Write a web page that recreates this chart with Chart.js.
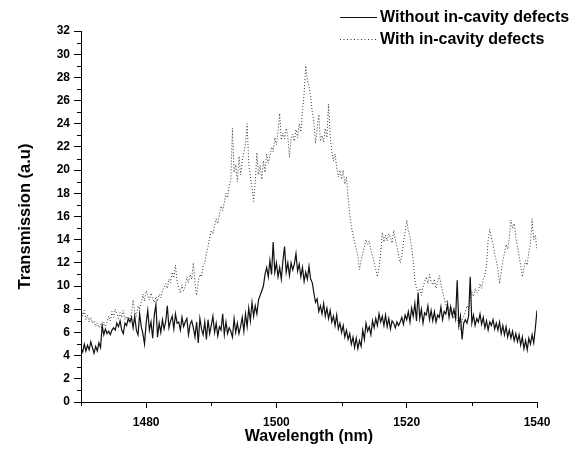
<!DOCTYPE html>
<html>
<head>
<meta charset="utf-8">
<script src="https://cdn.jsdelivr.net/npm/chart.js@4"></script>
<style>
  html, body { margin: 0; padding: 0; background: #fff; }
  #wrap { width: 579px; height: 455px; position: relative; }
</style>
</head>
<body>
<div id="wrap"><canvas id="c" width="579" height="455"></canvas></div>
<script>
// Wavelength sampling (nm)
const wlStart = 1470;
const wlStep = 0.25;

// Without in-cavity defects (4 samples per nm, 1470 .. 1540)
const withoutDefects = [
  4.6, 4.3, 5.0, 4.4,   4.9, 4.5, 5.2, 4.7,   4.2, 4.8, 4.4, 5.1,   4.7, 6.6, 5.8, 6.3,
  5.9, 6.1, 5.8, 6.2,   6.4, 6.2, 6.8, 6.5,   7.0, 6.2, 5.9, 6.8,   6.6, 7.2, 6.9, 7.3,
  6.4, 7.4, 6.2, 5.8,   7.6, 6.5, 5.9, 5.0,   6.8, 7.9, 6.2, 6.9,   5.5, 7.5, 8.4, 5.6,
  6.8, 6.0, 7.1, 6.3,   6.9, 8.3, 6.4, 7.0,   7.4, 6.3, 7.6, 6.8,   6.9, 6.2, 7.3, 6.5,
  6.9, 7.2, 5.8, 6.7,   7.0, 6.4, 5.6, 6.9,   5.1, 7.2, 6.3, 5.8,   6.9, 5.4, 7.1, 5.9,
  6.6, 7.4, 6.0, 6.8,   5.7, 6.5, 6.2, 7.6,   5.8, 6.9, 5.9, 6.4,   6.1, 5.6, 7.2, 6.0,
  6.8, 5.9, 6.5, 7.3,   6.1, 7.6, 6.5, 8.1,   7.0, 8.6, 7.4, 8.3,   7.6, 8.8, 9.2, 9.6,
  10.0, 11.0, 11.6, 10.8,  12.2, 11.0, 13.8, 11.2,  12.0, 10.8, 11.6, 10.6,  12.2, 13.4, 11.2, 12.0,
  10.9, 12.0, 11.4, 11.9,  12.8, 11.3, 11.9, 10.8,  11.6, 10.4, 11.2, 10.6,  11.7, 10.6, 10.3, 9.4,
  8.6, 8.9, 7.8, 8.3,   7.6, 8.5, 7.4, 8.1,   7.2, 7.9, 6.9, 7.4,   6.6, 7.5, 6.3, 6.8,
  6.0, 6.6, 5.6, 6.2,   5.4, 5.9, 5.0, 5.6,   4.7, 5.5, 4.6, 5.3,   4.8, 6.2, 5.4, 6.8,
  6.1, 6.5, 5.8, 7.0,   6.4, 7.2, 6.6, 7.6,   6.9, 7.4, 6.6, 7.5,   6.5, 7.2, 6.3, 7.0,
  6.8, 6.4, 6.9, 6.6,   6.9, 7.3, 6.7, 7.5,   7.1, 7.8, 6.9, 8.1,   7.4, 8.5, 7.0, 9.4,
  7.2, 8.0, 6.8, 7.7,   7.5, 8.3, 7.1, 7.9,   7.0, 7.8, 6.9, 7.5,   7.3, 8.2, 7.1, 7.8,
  7.6, 8.4, 7.3, 8.2,   7.4, 8.0, 7.2, 10.5,  6.6, 7.4, 5.4, 6.8,   7.1, 6.8, 7.4, 10.8,
  6.8, 7.5, 6.6, 7.2,   6.9, 7.6, 6.7, 7.3,   6.4, 7.0, 6.2, 6.9,   6.6, 7.1, 6.3, 6.8,
  6.2, 6.9, 5.9, 6.6,   5.8, 6.5, 5.6, 6.2,   5.5, 6.1, 5.3, 5.9,   5.2, 5.8, 4.9, 5.6,
  4.6, 5.3, 4.5, 5.5,   5.0, 5.8, 5.1, 6.4,   7.9
];

// With in-cavity defects (4 samples per nm, 1470 .. 1540)
const withDefects = [
  8.2, 7.4, 7.9, 7.1,   7.5, 6.9, 7.3, 6.8,   7.0, 6.5, 6.8, 6.4,   6.7, 6.3, 6.9, 6.5,
  6.9, 7.4, 7.0, 7.8,   7.3, 8.0, 7.6, 7.2,   7.7, 7.3, 7.9, 7.1,   7.4, 7.0, 7.3, 7.6,
  8.8, 7.8, 7.4, 8.3,   8.0, 8.6, 9.3, 8.7,   9.6, 9.2, 8.8, 9.4,   8.9, 8.6, 9.1, 8.7,
  9.3, 9.0, 9.6, 9.9,   10.2, 9.8, 10.6, 10.3,  11.2, 10.7, 11.8, 10.4,  9.8, 9.4, 10.1, 9.6,
  10.0, 10.8, 10.3, 11.0,  10.6, 12.0, 10.2, 9.2,  10.4, 11.0, 10.8, 11.8,  12.0, 12.8, 13.4, 14.2,
  14.8, 14.5, 15.2, 15.8,  15.4, 16.2, 16.9, 16.5,  17.2, 18.0, 17.6, 18.7,  19.2, 23.6, 19.8, 20.5,
  19.0, 21.2, 19.6, 20.8,  21.5, 22.3, 24.0, 20.6,  19.4, 18.5, 17.3, 19.0,  21.5, 19.6, 20.4, 19.2,
  20.8, 19.8, 21.4, 20.6,  21.2, 22.0, 21.6, 22.8,  22.2, 23.4, 24.9, 22.6,  23.2, 22.7, 23.6, 22.9,
  21.1, 22.8, 23.1, 22.5,  23.5, 22.8, 24.0, 23.3,  25.2, 26.6, 29.0, 27.8,  27.2, 26.4, 25.0, 24.2,
  22.3, 23.6, 24.8, 22.5,  23.0, 22.4, 23.6, 22.8,  25.7, 23.0, 21.6, 20.8,  21.4, 20.2, 19.4, 20.0,
  19.2, 20.0, 18.8, 19.4,  17.6, 16.2, 15.2, 14.4,  13.8, 13.2, 12.6, 11.4,  12.2, 12.8, 13.4, 14.0,
  13.6, 13.9, 13.1, 12.6,  12.0, 11.4, 10.8, 11.6,  12.8, 14.6, 13.8, 14.4,  13.9, 14.5, 14.2, 13.7,
  14.8, 14.0, 13.4, 12.6,  12.0, 12.6, 13.8, 14.6,  15.7, 14.8, 14.2, 13.4,  12.2, 10.5, 9.8, 9.4,
  9.8, 9.2, 9.9, 10.4,   10.8, 10.2, 11.0, 10.4,  10.1, 10.6, 9.8, 10.4,  10.9, 10.2, 9.5, 9.0,
  8.4, 8.8, 7.9, 8.2,   7.6, 7.2, 7.8, 7.1,   6.8, 6.2, 7.0, 7.4,   7.8, 8.3, 8.0, 8.8,
  9.5, 9.1, 9.8, 9.4,   9.6, 10.2, 9.8, 10.6,  10.9, 11.8, 14.0, 14.9,  14.2, 13.6, 12.8, 12.2,
  11.4, 10.2, 11.2, 12.2,  12.8, 13.6, 13.2, 14.2,  15.7, 15.0, 15.4, 14.2,  13.4, 12.6, 11.8, 10.8,
  11.6, 12.2, 11.8, 13.0,  13.6, 15.8, 14.0, 14.4,  13.1
];

// Axis ticks
const xMajorTicks = [1480, 1500, 1520, 1540];
const xMinorTicks = [1470, 1490, 1510, 1530];
const yMin = 0, yMax = 32, yStep = 2;
const seriesLabels = ['Without in-cavity defects', 'With in-cavity defects'];

const toPoints = arr => arr.map((v, i) => ({ x: wlStart + i * wlStep, y: v }));

const FONT = '"Liberation Sans", Arial, sans-serif';

const minorTicksPlugin = {
  id: 'minorTicks',
  afterDraw(chart) {
    const ctx = chart.ctx;
    const xs = chart.scales.x, ys = chart.scales.y;
    ctx.save();
    ctx.strokeStyle = '#000';
    ctx.lineWidth = 1;
    ctx.beginPath();
    for (let v = yMin + 1; v < yMax; v += 2) {
      const py = Math.round(ys.getPixelForValue(v)) + 0.5;
      ctx.moveTo(ys.right - 4, py);
      ctx.lineTo(ys.right, py);
    }
    xMinorTicks.forEach(v => {
      const px = Math.round(xs.getPixelForValue(v)) + 0.5;
      ctx.moveTo(px, xs.top);
      ctx.lineTo(px, xs.top + 4);
    });
    ctx.stroke();
    ctx.restore();
  }
};

const legendPlugin = {
  id: 'customLegend',
  afterDraw(chart) {
    const ctx = chart.ctx;
    ctx.save();
    const rows = [
      { y: 17, dash: [], ds: chart.data.datasets[0] },
      { y: 39, dash: [1, 2.5], ds: chart.data.datasets[1] }
    ];
    rows.forEach(r => {
      ctx.strokeStyle = r.ds.borderColor;
      ctx.lineWidth = 1;
      ctx.setLineDash(r.dash);
      ctx.beginPath();
      ctx.moveTo(340, r.y + 0.5);
      ctx.lineTo(377, r.y + 0.5);
      ctx.stroke();
      ctx.setLineDash([]);
      ctx.fillStyle = '#000';
      ctx.font = 'bold 16px ' + FONT;
      ctx.textBaseline = 'middle';
      ctx.textAlign = 'left';
      ctx.fillText(r.ds.label, 380, r.y + 0.5);
    });
    ctx.restore();
  }
};

new Chart(document.getElementById('c'), {
  type: 'line',
  data: {
    datasets: [
      {
        label: seriesLabels[0],
        data: toPoints(withoutDefects),
        borderColor: '#111',
        borderWidth: 1.2,
        pointRadius: 0,
        tension: 0,
        order: 1
      },
      {
        label: seriesLabels[1],
        data: toPoints(withDefects),
        borderColor: '#333',
        borderWidth: 1,
        borderDash: [1, 2],
        pointRadius: 0,
        tension: 0,
        order: 2
      }
    ]
  },
  options: {
    responsive: false,
    animation: false,
    devicePixelRatio: 1,
    layout: { padding: { top: 31, right: 42, left: 0, bottom: 0 } },
    plugins: { legend: { display: false }, tooltip: { enabled: false } },
    scales: {
      x: {
        type: 'linear',
        min: 1470,
        max: 1540,
        afterBuildTicks: s => { s.ticks = xMajorTicks.map(v => ({ value: v })); },
        afterFit: s => { s.height = 53; },
        grid: { display: true, drawOnChartArea: false, drawTicks: true, tickLength: 6, color: '#000' },
        border: { display: true, color: '#000', width: 1 },
        ticks: { color: '#000', font: { family: FONT, size: 12, weight: 'bold' }, padding: 7, maxRotation: 0, callback: v => String(v) },
        title: { display: true, text: 'Wavelength (nm)', color: '#000', font: { family: FONT, size: 16, weight: 'bold' }, padding: { top: 0, bottom: 9 } }
      },
      y: {
        type: 'linear',
        min: yMin,
        max: yMax,
        ticks: { stepSize: yStep, color: '#000', font: { family: FONT, size: 12, weight: 'bold' }, padding: 4 },
        afterFit: s => { s.width = 81; },
        grid: { display: true, drawOnChartArea: false, drawTicks: true, tickLength: 7, color: '#000' },
        border: { display: true, color: '#000', width: 1 },
        title: { display: true, text: 'Transmission (a.u)', color: '#000', font: { family: FONT, size: 16.5, weight: 'bold' }, padding: { top: 16, bottom: 0 } }
      }
    }
  },
  plugins: [minorTicksPlugin, legendPlugin]
});
</script>
</body>
</html>
